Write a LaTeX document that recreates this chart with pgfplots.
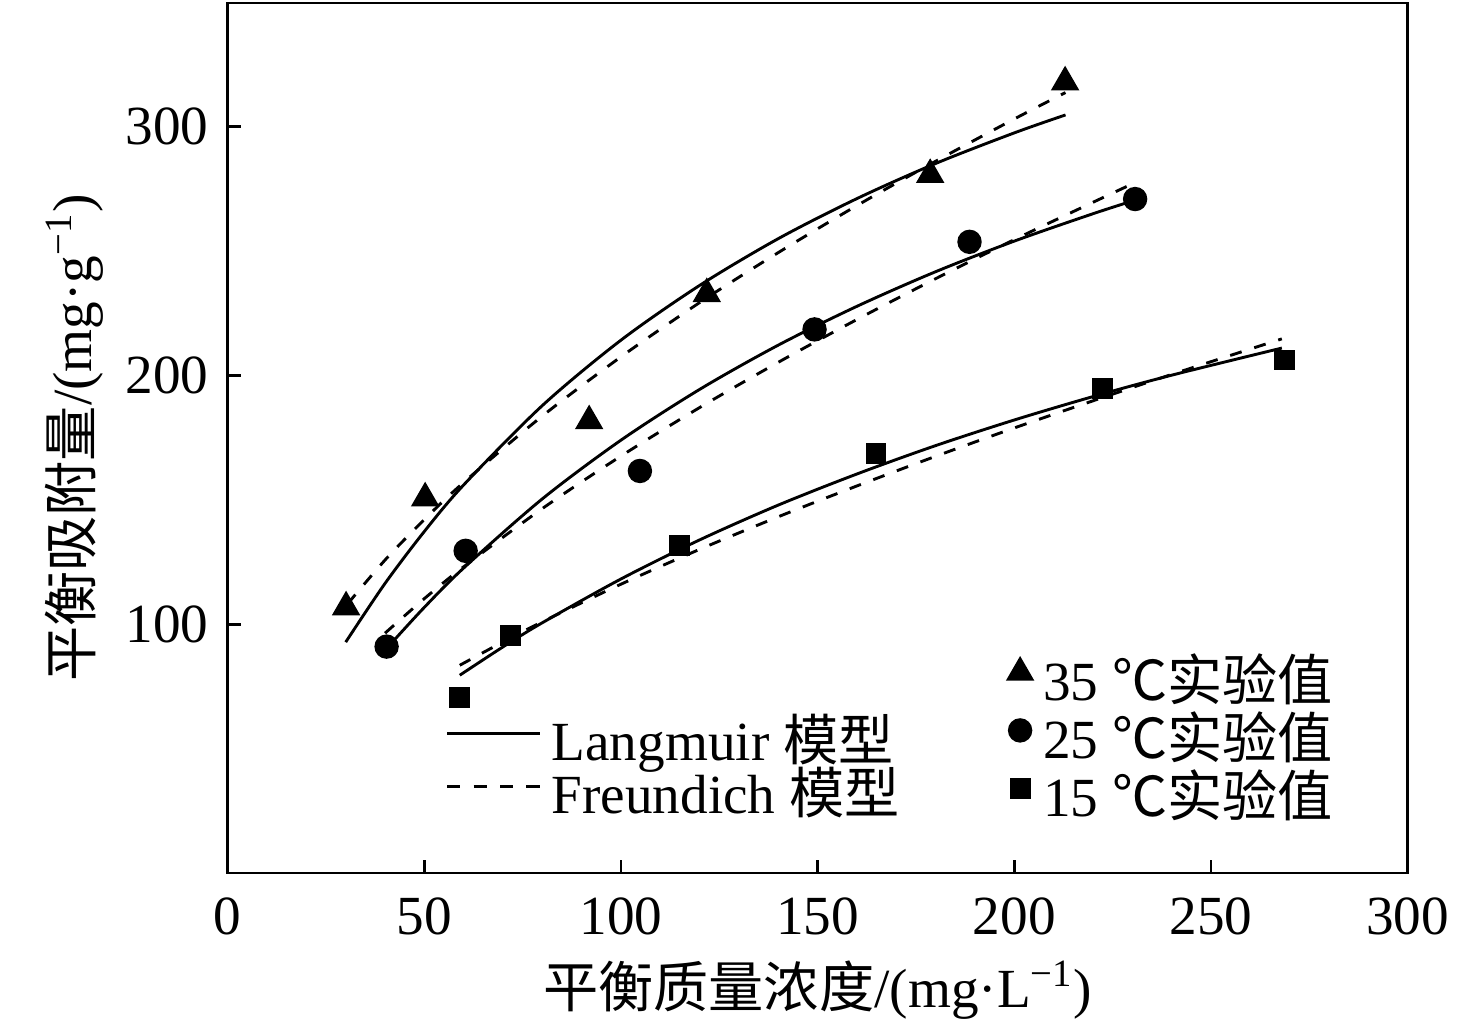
\documentclass[border=0pt]{standalone}
\usepackage{fontspec}
\setmainfont{Liberation Serif}
\newfontfamily\cjk{Noto Sans CJK SC}
\usepackage{pgfplots}
\pgfplotsset{compat=1.18}
\newcommand{\fs}{\fontsize{13.8}{16}\selectfont}
\begin{document}
\fs
\begin{tikzpicture}
\begin{axis}[
  name=main,
  scale only axis, width=295pt, height=217.5pt,
  xmin=0, xmax=300, ymin=0, ymax=349.7,
  xtick={0,50,...,300}, ytick={100,200,300},
  tick align=inside, tick pos=left,
  major tick length=3.3pt,
  axis line style={line width=0.7pt},
  every tick/.style={line width=0.7pt, black},
  /pgf/number format/assume math mode=true,
  tick label style={font=\fs},
  xticklabel style={yshift=-1.5pt},
  xlabel={{\cjk 平衡质量浓度}/(mg·L\textsuperscript{−1})},
  ylabel={{\cjk 平衡吸附量}/(mg·g\textsuperscript{−1})},
  label style={font=\fs},
  xlabel style={at={(axis description cs:0.5,-0.1345)}, anchor=center},
  ylabel style={at={(axis description cs:-0.1297,0.5)}, anchor=center},
  legend style={draw=none, fill=none, inner xsep=0pt, inner ysep=0pt,
    font=\fs, nodes={inner sep=0pt, text height=10pt, text depth=3.25pt},
    row sep=1.25pt, column sep=2.6pt,
    at={(axis cs:198,86.9)}, anchor=north west},
  legend cell align=left,
  legend image code/.code={\draw[#1] plot coordinates {(0pt,3.75pt)};},
]
% fitted curves
\addplot[black, line width=0.72pt, smooth, forget plot] coordinates {(30,92.8)(40,116.4)(50,137.3)(60,156.0)(80,187.9)(100,214.2)(120,236.2)(140,255.0)(160,271.1)(180,285.2)(200,297.5)(213,304.7)};
\addplot[black, line width=0.72pt, smooth, dash pattern=on 3pt off 3.3pt, forget plot] coordinates {(30.5,108.2)(40,125.8)(50,142.1)(60,157.0)(80,183.7)(100,207.5)(120,229.3)(140,249.4)(160,268.3)(180,286.1)(200,303.1)(213,313.7)};
\addplot[black, line width=0.72pt, smooth, forget plot] coordinates {(41,91.3)(50,106.8)(60,122.6)(80,150.4)(100,174.0)(120,194.4)(140,212.2)(160,227.8)(180,241.7)(200,254.0)(220,265.0)(231,270.6)};
\addplot[black, line width=0.72pt, smooth, dash pattern=on 3pt off 3.3pt, forget plot] coordinates {(40,96.4)(50,110.3)(60,123.1)(80,146.5)(100,167.6)(120,187.1)(140,205.3)(160,222.5)(180,238.9)(200,254.6)(220,269.6)(230,277.0)};
\addplot[black, line width=0.72pt, smooth, forget plot] coordinates {(59,79.5)(70,90.9)(80,100.6)(100,118.2)(120,133.9)(140,147.9)(160,160.4)(180,171.8)(200,182.1)(220,191.5)(240,200.1)(268,211.0)};
\addplot[black, line width=0.72pt, smooth, dash pattern=on 3pt off 3.3pt, forget plot] coordinates {(59,83.5)(70,92.9)(80,101.0)(100,116.1)(120,130.1)(140,143.2)(160,155.6)(180,167.5)(200,178.9)(220,189.8)(240,200.4)(268,214.7)};
% experimental values
\addplot[only marks, mark=triangle*, mark size=3.7pt, black, mark options={fill=black}] coordinates {(30.1,106.9)(50.2,150.7)(91.9,181.7)(121.8,232.8)(178.6,280.7)(212.9,317.9)};
\addlegendentry{35 {\cjk ℃实验值}}
\addplot[only marks, mark=*, mark size=2.85pt, black, mark options={fill=black}] coordinates {(40.4,91.0)(60.5,129.5)(104.8,161.6)(149.2,218.5)(188.6,253.7)(230.7,270.9)};
\addlegendentry{25 {\cjk ℃实验值}}
\addplot[only marks, mark=square*, mark size=2.4pt, black, mark options={fill=black}] coordinates {(58.9,70.7)(71.9,95.5)(114.8,131.8)(164.8,168.7)(222.5,194.8)(268.6,206.2)};
\addlegendentry{15 {\cjk ℃实验值}}
\end{axis}
\begin{axis}[
  scale only axis, width=295pt, height=217.5pt,
  xmin=0, xmax=300, ymin=0, ymax=349.7,
  hide axis,
  legend style={draw=none, fill=none, inner xsep=0pt, inner ysep=0pt,
    font=\fs, nodes={inner sep=0pt, text height=10pt, text depth=3.25pt},
    row sep=0pt, column sep=2.5pt,
    at={(axis cs:55.25,61.5)}, anchor=north west},
  legend cell align=left,
  legend image code/.code={\draw[#1] (0pt,3.5pt) -- (23.25pt,3.5pt);},
]
\addlegendimage{black, line width=0.72pt}
\addlegendentry{Langmuir {\cjk 模型}}
\addlegendimage{black, line width=0.72pt, dash pattern=on 3.3pt off 3.3pt}
\addlegendentry{Freundich {\cjk 模型}}
\end{axis}
\pgfresetboundingbox
\path ([shift={(-56.925pt,-38.75pt)}]main.south west) rectangle ([shift={(17.075pt,0.75pt)}]main.north east);
\end{tikzpicture}
\end{document}
